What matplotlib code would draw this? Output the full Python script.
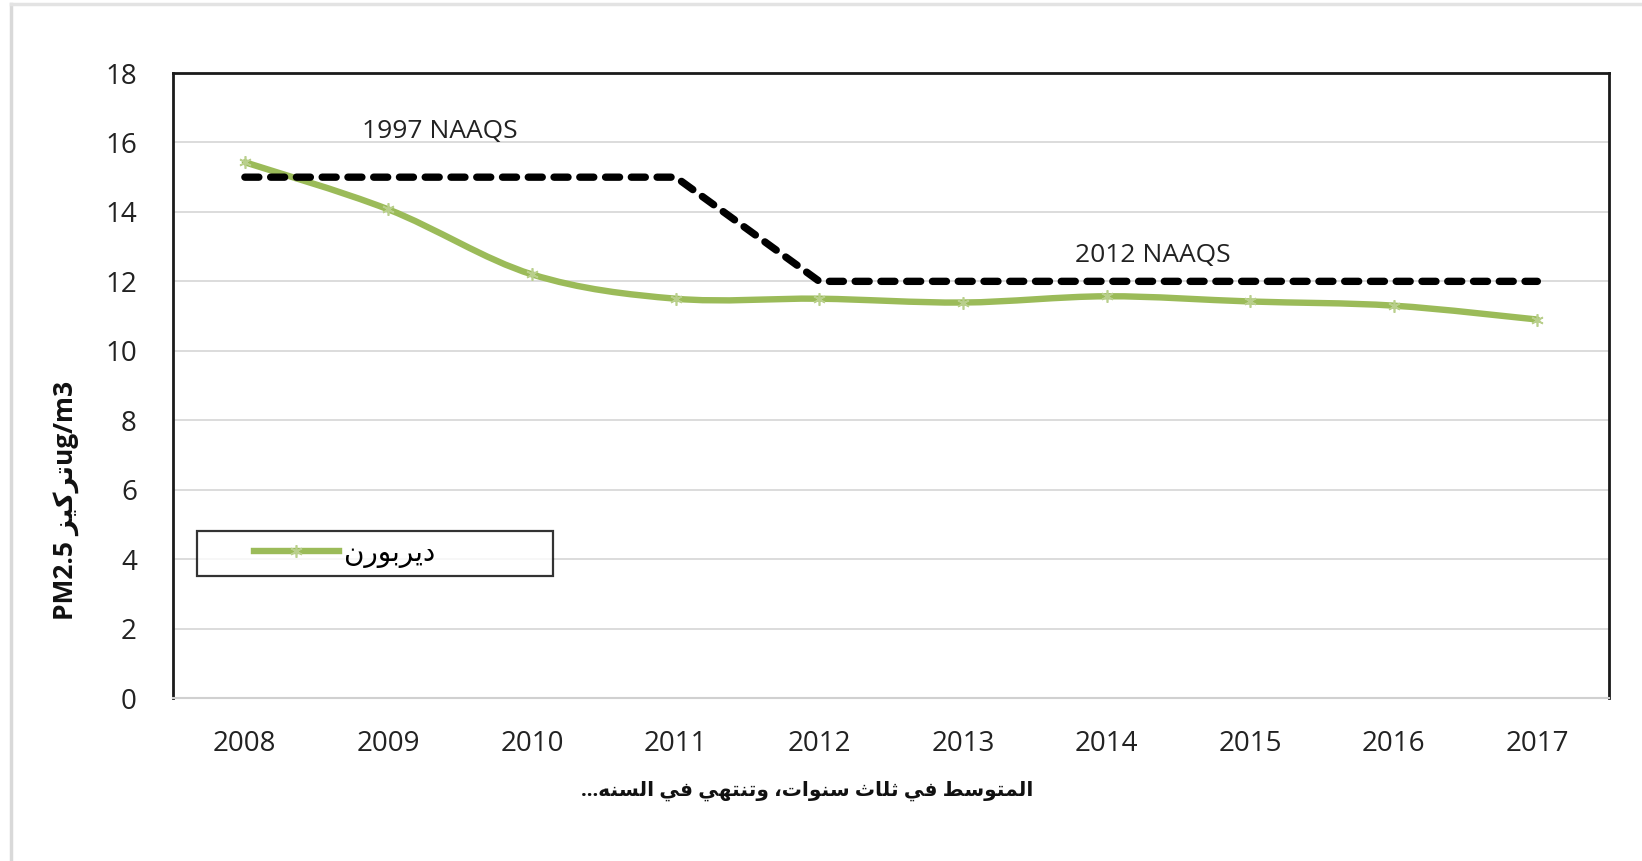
import numpy as np
import matplotlib
matplotlib.use("Agg")
import matplotlib.pyplot as plt
from matplotlib.path import Path
from matplotlib.patches import PathPatch
from matplotlib.lines import Line2D
from matplotlib.legend_handler import HandlerLine2D

plt.rcParams['font.family'] = ['Open Sans', 'DejaVu Sans']

# ---------------- data ----------------
years = ['2008', '2009', '2010', '2011', '2012', '2013', '2014', '2015', '2016', '2017']
dearborn = [15.43, 14.07, 12.2, 11.5, 11.5, 11.39, 11.57, 11.42, 11.3, 10.9]
naaqs = [15, 15, 15, 15, 12, 12, 12, 12, 12, 12]
yticks = list(range(0, 19, 2))

# Arabic text, written with presentation forms in visual order
# (matplotlib has no shaping / bidi)
series_name = '\ufee5\ufead\ufeee\ufe91\ufeae\ufef3\ufea9'              # ديربورن
y_label = 'PM2.5 ' + '\ufeb0\ufef4\ufedb\ufeae\ufe97' + 'ug/m3'          # PM2.5 تركيز ug/m3
x_words = [
    '...' + '\ufeea\ufee8\ufeb4\ufedf\ufe8d',        # السنه...
    '\ufef2\ufed3',                                    # في
    '\ufef2\ufeec\ufe98\ufee8\ufe97\ufeed',            # وتنتهي
    '\u060c' + '\ufe95\ufe8d\ufeee\ufee8\ufeb3',       # سنوات،
    '\ufe99\ufe8e\ufee0\ufe9b',                        # ثلاث
    '\ufef2\ufed3',                                    # في
    '\ufec2\ufeb3\ufeee\ufe98\ufee4\ufedf\ufe8d',      # المتوسط
]
x_label = ' '.join(x_words)

green = '#9BBB59'

fig = plt.figure(figsize=(16.42, 8.61), dpi=100)
ax = fig.add_axes([0.1054, 0.1893, 0.8746, 0.7259])

x = np.arange(len(years))
y = np.array(dearborn)

# smoothed line (bezier through the points, like excel's "smoothed line")
pts = np.column_stack([x, y])
verts = [pts[0]]
codes = [Path.MOVETO]
n = len(pts)
for i in range(n - 1):
    p_prev = pts[max(i - 1, 0)]
    p0 = pts[i]
    p1 = pts[i + 1]
    p_next = pts[min(i + 2, n - 1)]
    c1 = p0 + (p1 - p_prev) / 6.0
    c2 = p1 - (p_next - p0) / 6.0
    verts += [c1, c2, p1]
    codes += [Path.CURVE4] * 3
ax.add_patch(PathPatch(Path(verts, codes), fill=False, edgecolor=green,
                       linewidth=4.6, capstyle='round', joinstyle='round', zorder=3))
ax.plot(x, y, linestyle='none', marker=(6, 2, 0), markersize=9,
        markeredgewidth=1.2, markeredgecolor='#B9CF8C', zorder=4)

# NAAQS standard
ax.plot(x, naaqs, color='black', linewidth=5.3, dashes=(1.9, 1.6),
        dash_capstyle='round', zorder=3)

ax.text(1.36, 16.32, '1997 NAAQS', fontsize=19, ha='center', va='center', color='#222222')
ax.text(6.32, 12.74, '2012 NAAQS', fontsize=19, ha='center', va='center', color='#222222')

ax.set_xlim(-0.5, len(years) - 0.5)
ax.set_ylim(0, 18)
ax.set_xticks(x)
ax.set_xticklabels(years)
ax.set_yticks(yticks)
ax.tick_params(axis='both', length=0, labelsize=20, colors='#222222')
ax.tick_params(axis='x', pad=23)
ax.tick_params(axis='y', pad=26)
ax.grid(axis='y', color='#D9D9D9', linewidth=1.3)
ax.set_axisbelow(True)

for side in ['left', 'right', 'top']:
    ax.spines[side].set_color('#1a1a1a')
    ax.spines[side].set_linewidth(2)
ax.spines['bottom'].set_color('#D0D0D0')
ax.spines['bottom'].set_linewidth(1.5)

handle = Line2D([], [], color=green, linewidth=4.6, marker=(6, 2, 0),
                markersize=9, markeredgewidth=1.2, markeredgecolor='#B9CF8C')
leg = ax.legend([handle], [series_name], loc='lower left',
                bbox_to_anchor=(0.0167, 0.195, 0.248, 0.072), mode='expand',
                borderaxespad=0, fancybox=False, fontsize=20,
                handlelength=4.8, handletextpad=0.2, borderpad=0.3,
                handler_map={Line2D: HandlerLine2D(xpad=1.75)})
leg.get_frame().set_edgecolor('black')
leg.get_frame().set_linewidth(1.6)

fig.text(66 / 1642, 1 - 500 / 861, y_label, rotation=90, ha='center', va='center',
         fontsize=19, fontweight='bold', color='#111111')
fig.text(807 / 1642, 1 - 791 / 861, x_label, ha='center', va='center',
         fontsize=14.5, fontweight='bold', color='#111111')

# outer chart-area border (left and top edges visible in the screenshot)
fig.add_artist(Line2D([11 / 1642, 11 / 1642], [0, 1 - 4 / 861],
                      transform=fig.transFigure, color='#D9D9D9', linewidth=2.5))
fig.add_artist(Line2D([11 / 1642, 1], [1 - 4 / 861, 1 - 4 / 861],
                      transform=fig.transFigure, color='#E3E3E3', linewidth=2.5))

plt.savefig('out.png', dpi=100)
